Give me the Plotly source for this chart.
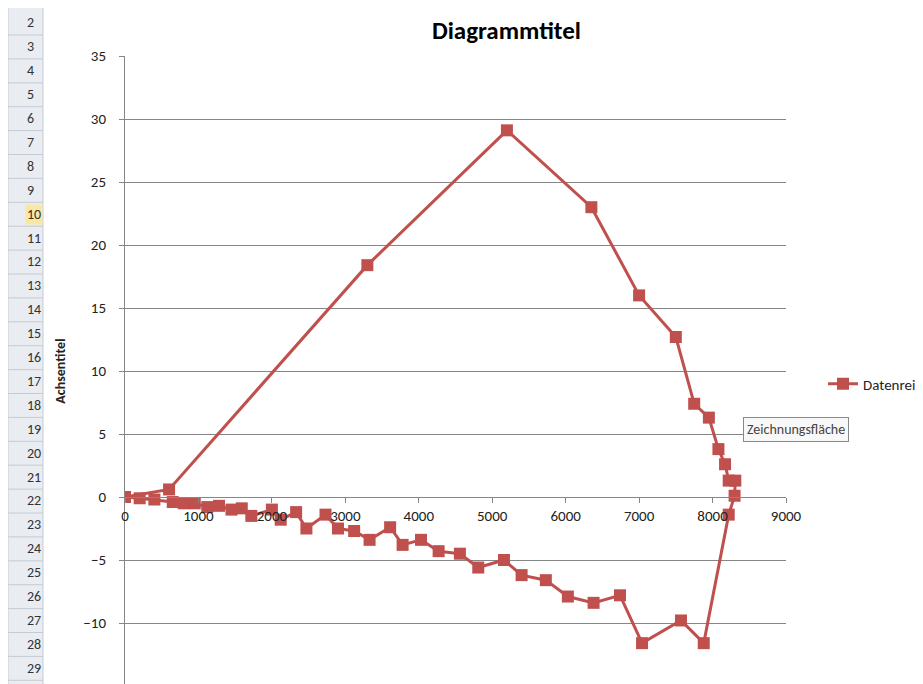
import plotly.graph_objects as go

# Datenreihe, in drawing order (x, y)
xs = [0, 600, 3300, 5200, 6350, 7000, 7500, 7750, 7950, 8080, 8170, 8220, 8310, 8300,
      8220, 7880, 7570, 7040, 6740, 6380, 6030, 5730, 5400, 5160, 4810, 4560, 4270,
      4030, 3780, 3610, 3330, 3120, 2900, 2730, 2470, 2330, 2120, 2000, 1720, 1590,
      1450, 1280, 1120, 950, 800, 650, 400, 200, 0]
ys = [0, 0.6, 18.4, 29.1, 23.0, 16.0, 12.7, 7.4, 6.3, 3.8, 2.6, 1.3, 1.3, 0.1,
      -1.4, -11.6, -9.8, -11.6, -7.8, -8.4, -7.9, -6.6, -6.2, -5.0, -5.6, -4.5, -4.3,
      -3.4, -3.8, -2.4, -3.4, -2.7, -2.5, -1.4, -2.5, -1.2, -1.8, -1.0, -1.5, -0.9,
      -1.0, -0.7, -0.8, -0.5, -0.5, -0.4, -0.2, -0.1, 0]
row_numbers = list(range(2, 30))

red = "#c0504d"
W, H = 923, 684
L, R, T, B = 117, 778, 48, 678

fig = go.Figure()
fig.add_trace(go.Scatter(
    x=xs, y=ys, mode="lines+markers", name="Datenreihe1",
    line=dict(color=red, width=3),
    marker=dict(symbol="square", size=12, color=red),
))

def px_x(p):
    return (p - L) / (R - L)

def px_y(p):
    return (B - p) / (B - T)

# Excel row header strip
fig.add_shape(type="rect", xref="paper", yref="paper",
              x0=px_x(0), x1=px_x(35), y0=px_y(H + 10), y1=px_y(-5),
              fillcolor="#e9ecf1", line=dict(color="#c5cbd4", width=1), layer="below")
for i, n in enumerate(row_numbers):
    cy = 15 + i * 23.9
    fig.add_annotation(xref="paper", yref="paper", x=px_x(17), y=px_y(cy),
                       yanchor="middle", text=str(n), showarrow=False,
                       font=dict(size=14, color="#333",
                                 family="Calibri, Carlito, Liberation Sans, sans-serif"),
                       bgcolor="#f9e7a6" if n == 10 else None)
    fig.add_shape(type="line", xref="paper", yref="paper",
                  x0=px_x(0), x1=px_x(35), y0=px_y(cy + 12), y1=px_y(cy + 12),
                  line=dict(color="#c5cbd4", width=1))

fig.add_annotation(xref="paper", yref="paper", x=px_x(735), y=px_y(421),
                   xanchor="left", yanchor="middle",
                   text="Zeichnungsfläche", showarrow=False,
                   font=dict(size=14, color="#444"), bgcolor="#f8f8f8",
                   bordercolor="#888", borderwidth=1, borderpad=3)

fig.update_layout(
    width=W, height=H,
    margin=dict(l=L, r=W - R, t=T, b=H - B, autoexpand=False),
    paper_bgcolor="white", plot_bgcolor="white",
    font=dict(family="Calibri, Carlito, Liberation Sans, sans-serif", size=15, color="#222"),
    title=dict(text="<b>Diagrammtitel</b>", x=0.54, xanchor="center", y=0.98,
               font=dict(size=25, color="black")),
    showlegend=True,
    legend=dict(x=px_x(815), y=px_y(376), xanchor="left", yanchor="middle",
                font=dict(size=15)),
    xaxis=dict(range=[0, 9000], dtick=1000, showgrid=False, anchor="free",
               position=px_y(489), showline=True, linecolor="#868686",
               ticks="outside", ticklen=5, tickcolor="#868686", zeroline=False,
               automargin=False),
    yaxis=dict(range=[-15, 35], dtick=5, showgrid=True, gridcolor="#868686",
               showline=True, linecolor="#868686", ticks="outside", tickcolor="#868686",
               zeroline=False, ticklabelstandoff=10, automargin=False,
               title=dict(text="<b>Achsentitel</b>", standoff=14, font=dict(size=14))),
)

fig.write_html("out.html")
